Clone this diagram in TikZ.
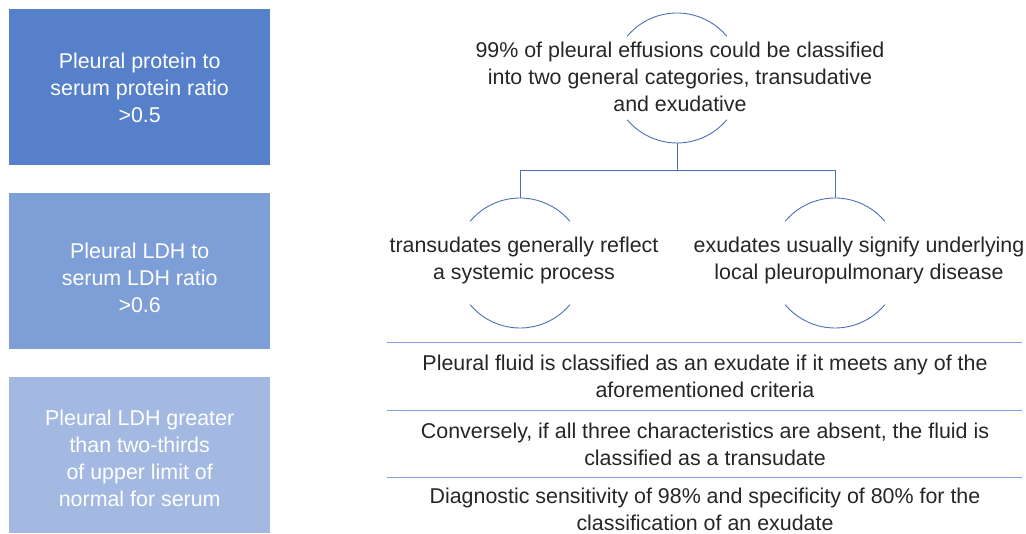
\documentclass[tikz,border=0pt]{standalone}
\usepackage{fontspec}
\setmainfont{Liberation Sans}
\definecolor{boxA}{HTML}{5681CA}
\definecolor{boxB}{HTML}{7E9ED7}
\definecolor{boxC}{HTML}{A3B9E1}
\definecolor{arcblue}{HTML}{4A70B8}
\definecolor{sepblue}{HTML}{7F9EDA}
\definecolor{txt}{HTML}{262626}
\begin{document}
\begin{tikzpicture}[x=1pt,y=-1pt,
  crit/.style={fill=#1,draw=none,minimum width=261pt,minimum height=156pt,anchor=north west,inner sep=0pt},
  crittext/.style={text=white,align=center,font=\fontsize{21.4}{27}\selectfont,inner sep=0pt},
  ctext/.style={text=txt,align=center,font=\fontsize{21.4}{27}\selectfont,inner sep=0pt},
  arcline/.style={draw=arcblue,line width=0.9pt},
  sepline/.style={draw=sepblue,line width=1pt}]
\useasboundingbox (0,0) rectangle (1026,534);
% left criteria boxes
\node[crit=boxA] (b1) at (9,9) {};
\node[crit=boxB] (b2) at (9,192.5) {};
\node[crit=boxC] (b3) at (9,377) {};
\node[crittext] (t1) at ([yshift=-1pt]b1.center) {Pleural protein to\\serum protein ratio\\>0.5};
\node[crittext] (t2) at ([yshift=-7pt]b2.center) {Pleural LDH to\\serum LDH ratio\\>0.6};
\node[crittext] (t3) at ([yshift=-3pt]b3.center) {Pleural LDH greater\\than two-thirds\\of upper limit of\\normal for serum};
% top node
\node[ctext] (top) at (680,77) {99\% of pleural effusions could be classified\\into two general categories, transudative\\and exudative};
\coordinate (tc) at (677,78);
\draw[arcline] (tc) ++(40:65) arc[start angle=40,end angle=140,radius=65];
\draw[arcline] (tc) ++(220:65) arc[start angle=220,end angle=320,radius=65];
% left and right nodes
\coordinate (lc) at (520,263);
\coordinate (rc) at (835,263);
\node[ctext] (trans) at (524,260) {transudates generally reflect\\a systemic process};
\node[ctext] (exud) at (859,260) {exudates usually signify underlying\\local pleuropulmonary disease};
\foreach \c in {lc,rc}{
  \draw[arcline] (\c) ++(40:65) arc[start angle=40,end angle=140,radius=65];
  \draw[arcline] (\c) ++(220:65) arc[start angle=220,end angle=320,radius=65];
}
% connectors
\coordinate (tb) at (677,143);
\coordinate (lt) at (520,198);
\coordinate (rt) at (835,198);
\draw[arcline] (tb) -- (677,170) -| (lt);
\draw[arcline] (677,170) -| (rt);
% separator rows
\draw[sepline] (387,343) coordinate (s1l) -- (1022,343) coordinate (s1r);
\draw[sepline] (387,411) coordinate (s2l) -- (1022,411) coordinate (s2r);
\draw[sepline] (387,478) coordinate (s3l) -- (1022,478) coordinate (s3r);
\node[ctext] (r1) at (705,376) {Pleural fluid is classified as an exudate if it meets any of the\\aforementioned criteria};
\node[ctext] (r2) at (705,444) {Conversely, if all three characteristics are absent, the fluid is\\classified as a transudate};
\node[ctext] (r3) at (705,509.5) {Diagnostic sensitivity of 98\% and specificity of 80\% for the\\classification of an exudate};
\end{tikzpicture}
\end{document}
